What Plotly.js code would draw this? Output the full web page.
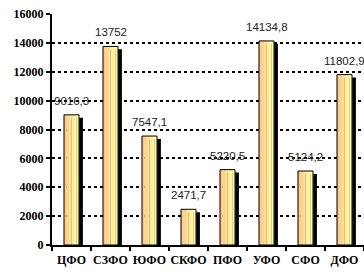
<!DOCTYPE html>
<html><head><meta charset="utf-8">
<script src="https://cdn.plot.ly/plotly-3.0.1.min.js"></script>
<style>html,body{margin:0;padding:0;background:#fff}#c{width:364px;height:275px}</style>
</head><body><div id="c"></div>
<script>
var categories = ['ЦФО','СЗФО','ЮФО','СКФО','ПФО','УФО','СФО','ДФО'];
var values = [9016.3, 13752, 7547.1, 2471.7, 5220.5, 14134.8, 5124.2, 11802.9];
var yTicks = [0,2000,4000,6000,8000,10000,12000,14000,16000];

var labels = values.map(function(v){ return String(v).replace('.', ','); });
var barW = 0.385;
var stripColors = ['#FFC585','#FFD28E','#FFDF97','#FFEA9D','#FFF4A2','#FFFBA6'];
var traces = [];
traces.push({type:'bar', x:categories, y:values.map(function(v){return v-200;}), width:barW,
  offset:-barW/2+0.1, marker:{color:'#000', line:{width:0}}, hoverinfo:'skip'});
var n = stripColors.length;
for (var i=0;i<n;i++){
  traces.push({type:'bar', x:categories, y:values, width:barW/n+0.005,
    offset:-barW/2+i*barW/n, marker:{color:stripColors[i], line:{width:0}}, hoverinfo:'skip'});
}
traces.push({type:'bar', x:categories, y:values, width:barW, offset:-barW/2,
  marker:{color:'rgba(0,0,0,0)', line:{color:'#000', width:1}}, hoverinfo:'skip'});

var annotations = categories.map(function(c,i){
  return {x:c, y:values[i], text:labels[i], showarrow:false, yshift:14, xanchor:'center', yanchor:'middle',
    font:{family:'"Liberation Sans Narrow", "Arial Narrow", "Liberation Sans", Arial, sans-serif', size:11.5, color:'#222'}};
});

var layout = {
  width:364, height:275, margin:{l:52, r:0, t:14, b:30},
  paper_bgcolor:'#fff', plot_bgcolor:'#fff', showlegend:false, barmode:'overlay',
  xaxis:{type:'category', tickson:'boundaries', ticks:'outside', ticklen:4, tickwidth:2, tickcolor:'#000',
    showline:true, linecolor:'#000', linewidth:2, showgrid:false, zeroline:false, tickangle:0, automargin:false,
    ticklabelstandoff:3,
    tickfont:{family:'"Liberation Serif", "Times New Roman", serif', size:12, color:'#000', weight:'bold'},
    range:[-0.5, 7.5], fixedrange:true},
  yaxis:{range:[0,16000], tickvals:yTicks, ticktext:yTicks.map(String), ticks:'outside', ticklen:4, tickwidth:2,
    tickcolor:'#000', showline:true, linecolor:'#000', linewidth:2, zeroline:false, automargin:false,
    showgrid:true, gridcolor:'#000', gridwidth:2, griddash:'3px,3px',
    tickfont:{family:'"Liberation Serif", "Times New Roman", serif', size:12, color:'#000', weight:'bold'},
    fixedrange:true},
  annotations:annotations
};
Plotly.newPlot('c', traces, layout, {displayModeBar:false, staticPlot:true});
</script></body></html>
